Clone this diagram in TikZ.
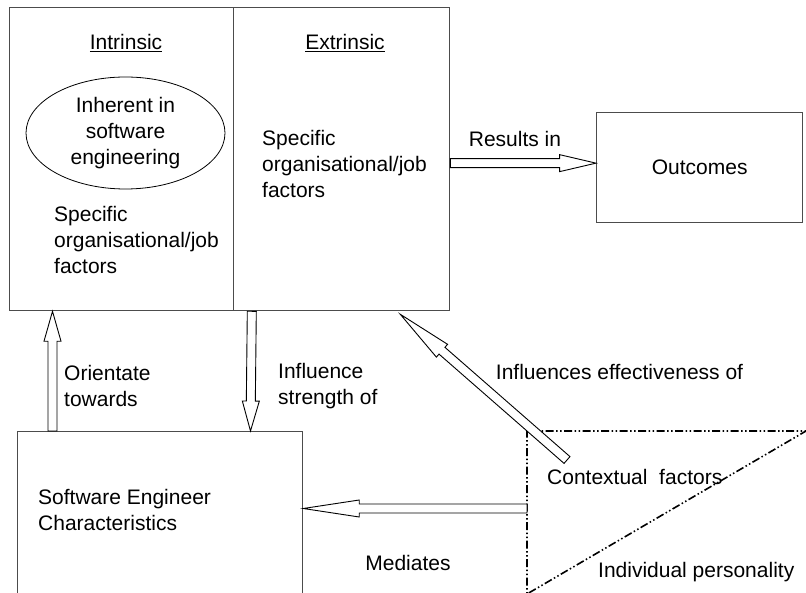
\documentclass[tikz,border=0pt]{standalone}
\usepackage{fontspec}
\setmainfont{Liberation Sans}
\usepackage{tikz}
\usetikzlibrary{calc,shapes.geometric}

% hollow block arrow from #1 to #2, head is a quarter of the length
\newcommand{\blockarrow}[2]{%
	\coordinate (hb) at ($(#2)!0.25!(#1)$);
	\draw[barrow] ($(#1)!4.5pt!90:(#2)$) -- ($(hb)!4.5pt!90:(#2)$) -- ($(hb)!8.5pt!90:(#2)$) -- (#2)
		-- ($(hb)!8.5pt!-90:(#2)$) -- ($(hb)!4.5pt!-90:(#2)$) -- ($(#1)!4.5pt!-90:(#2)$) -- cycle;}

\begin{document}
\begin{tikzpicture}[x=1pt,y=-1pt,
	every node/.style={font=\fontsize{21}{26}\selectfont},
	box/.style={rectangle,draw=black!70,line width=1.3pt,inner sep=0pt,anchor=north west},
	lbl/.style={align=left,inner sep=0pt,anchor=west},
	barrow/.style={draw=black,line width=0.9pt,fill=white,line join=miter},
	ctxline/.style={line width=1.6pt,dash pattern=on 8pt off 2.5pt on 1.5pt off 2.5pt on 1.5pt off 2.5pt}]
	\useasboundingbox (0,0) rectangle (806,593);
	\clip (0,0) rectangle (806,593);

	\node[box,minimum width=224pt,minimum height=303pt] at (9,7) (intr) {};
	\node[box,minimum width=216pt,minimum height=303pt] at (233,7) (extr) {};
	\node[box,minimum width=206pt,minimum height=110pt] at (596,112) (outc) {Outcomes};
	\node[box,minimum width=285pt,minimum height=280pt] at (17,431) (eng) {};

	\node at (126,43) (intrh) {\underline{Intrinsic}};
	\node at (345,43) (extrh) {\underline{Extrinsic}};
	\node[ellipse,draw,line width=0.8pt,minimum width=199pt,minimum height=112pt,inner sep=0pt,align=center] at (125.5,133) (inh) {Inherent in\\software\\engineering};
	\node[lbl] at (54,240) (intrf) {Specific\\organisational/job\\factors};
	\node[lbl] at (262,164) (extrf) {Specific\\organisational/job\\factors};
	\node at (515,139) (resl) {Results in};
	\node[lbl] at (64,386) (oril) {Orientate\\towards};
	\node[lbl] at (278,386) (infl) {Influence\\strength of};
	\node at (619.5,372) (effl) {Influences effectiveness of};
	\node[lbl] at (38,510) (engl) {Software Engineer\\Characteristics};
	\node at (408,563) (medl) {Mediates};
	\node[lbl] at (547,477) (ctxl) {Contextual\ \ factors};
	\node[lbl] at (598,572) (perl) {Individual personality};

	% contextual factors triangle
	\coordinate (ctx) at (527,431);
	\coordinate (ctxr) at (806,431);
	\coordinate (ctxb) at (527,594);
	\draw[ctxline] (ctx) -- (ctxr) -- (ctxb) -- cycle;

	\coordinate (oriA) at ([xshift=35.5pt]eng.north west);
	\coordinate (oriB) at ([xshift=43.5pt]intr.south west);
	\coordinate (infA) at ([xshift=17.5pt]intr.south east);
	\coordinate (infB) at ([xshift=233.5pt]eng.north west);
	\coordinate (resA) at ([yshift=-4pt]extr.east);
	\coordinate (resB) at ([yshift=4.5pt]outc.west);
	\coordinate (medA) at ([yshift=-77.5pt]ctx);
	\coordinate (medB) at ([yshift=-77.5pt]eng.north east);
	\coordinate (effA) at ([xshift=40pt,yshift=-29pt]ctx);
	\coordinate (effB) at ([xshift=166pt,yshift=-3pt]intr.south east);

	\blockarrow{oriA}{oriB}
	\blockarrow{infA}{infB}
	\blockarrow{resA}{resB}
	\blockarrow{medA}{medB}
	\blockarrow{effA}{effB}
\end{tikzpicture}
\end{document}
